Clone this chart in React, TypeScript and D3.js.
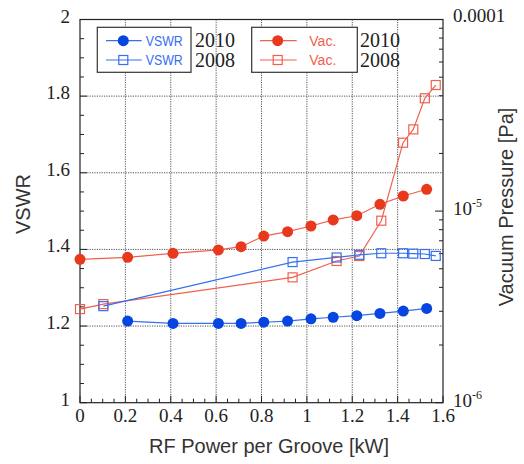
import React from "react";
import * as d3 from "d3";

const vswr2010X = [0.21, 0.41, 0.61, 0.71, 0.81, 0.915, 1.018, 1.116, 1.22, 1.322, 1.425, 1.528];
const vswr2010Y = [1.213, 1.207, 1.207, 1.207, 1.21, 1.213, 1.219, 1.223, 1.227, 1.233, 1.239, 1.246];
const vac2010X = [0, 0.21, 0.41, 0.61, 0.71, 0.81, 0.915, 1.018, 1.116, 1.22, 1.322, 1.425, 1.528];
const vac2010Y = [5.6e-6, 5.74e-6, 6.02e-6, 6.27e-6, 6.52e-6, 7.41e-6, 7.81e-6, 8.36e-6, 8.99e-6, 9.46e-6, 1.085e-5, 1.199e-5, 1.3e-5];
const vswr2008X = [0.103, 0.937, 1.131, 1.231, 1.328, 1.424, 1.469, 1.52, 1.568];
const vswr2008Y = [1.252, 1.367, 1.379, 1.386, 1.39, 1.39, 1.389, 1.388, 1.383];
const vac2008X = [0, 0.103, 0.937, 1.131, 1.231, 1.328, 1.424, 1.469, 1.52, 1.568];
const vac2008Y = [3.08e-6, 3.27e-6, 4.51e-6, 5.49e-6, 5.83e-6, 8.91e-6, 2.275e-5, 2.67e-5, 3.88e-5, 4.55e-5];

const xTicks = [0, 0.2, 0.4, 0.6, 0.8, 1, 1.2, 1.4, 1.6];
const xTickLabels = ["0", "0.2", "0.4", "0.6", "0.8", "1", "1.2", "1.4", "1.6"];
const yTicks = [1, 1.2, 1.4, 1.6, 1.8, 2];
const yTickLabels = ["1", "1.2", "1.4", "1.6", "1.8", "2"];

const L = 80, R = 443, T = 19.5, B = 402.7;
const blueFill = "#0645e0", blueLine = "#3470f0";
const redFill = "#e8391c", redLine = "#f0604e";
const serifStyle = { fontFamily: '"Liberation Serif", "Times New Roman", "DejaVu Serif", serif' };
const sansStyle = { fontFamily: '"Liberation Sans", Arial, Helvetica, sans-serif' };

export default function App() {
  const x = d3.scaleLinear().domain([0, 1.6]).range([L, R]);
  const y = d3.scaleLinear().domain([1, 2]).range([B, T]);
  const yp = d3.scaleLog().domain([1e-6, 1e-4]).range([B, T]);

  const lineV = (xs: number[], ys: number[]) =>
    d3.line<number>().x((_, i) => x(xs[i])).y((d) => y(d))(ys) || "";
  const lineP = (xs: number[], ys: number[]) =>
    d3.line<number>().x((_, i) => x(xs[i])).y((d) => yp(d))(ys) || "";

  const minorX = d3.range(0, 1.6001, 0.05);
  const minorY = d3.range(1, 2.0001, 0.05);
  const logMinor: number[] = [];
  [1e-6, 1e-5].forEach((b) => { for (let k = 2; k <= 9; k++) logMinor.push(b * k); });

  const sq = 9;
  const Square = ({ cx, cy, c }: { cx: number; cy: number; c: string }) => (
    <rect x={cx - sq / 2} y={cy - sq / 2} width={sq} height={sq} fill="none" stroke={c} strokeWidth={1.2} />
  );

  return (
    <svg width={524} height={464} style={{ position: "absolute", left: 0, top: 0 }}>
      <rect width={524} height={464} fill="#fff" />
      <g stroke="#555" strokeWidth={1} strokeDasharray="1.2,1.2">
        {xTicks.slice(1, -1).map((t) => (
          <line key={"gx" + t} x1={x(t)} x2={x(t)} y1={T} y2={B} />
        ))}
        {yTicks.slice(1, -1).map((t) => (
          <line key={"gy" + t} x1={L} x2={R} y1={y(t)} y2={y(t)} />
        ))}
      </g>
      <g stroke="#222" strokeWidth={1}>
        {minorX.map((t, i) => (
          <line key={"mx" + i} x1={x(t)} x2={x(t)} y1={B} y2={B - (i % 4 === 0 ? 7 : 4)} />
        ))}
        {minorY.map((t, i) => (
          <line key={"my" + i} x1={L} x2={L + (i % 4 === 0 ? 7 : 4)} y1={y(t)} y2={y(t)} />
        ))}
        {logMinor.map((t, i) => (
          <line key={"lm" + i} x1={R} x2={R - 4} y1={yp(t)} y2={yp(t)} />
        ))}
        {[1e-6, 1e-5, 1e-4].map((t) => (
          <line key={"lM" + t} x1={R} x2={R - 8} y1={yp(t)} y2={yp(t)} />
        ))}
      </g>
      <rect x={L} y={T} width={R - L} height={B - T} fill="none" stroke="#222" strokeWidth={1.2} />
      <path d={lineP(vac2008X, vac2008Y)} fill="none" stroke={redLine} strokeWidth={1.2} />
      <path d={lineV(vswr2008X, vswr2008Y)} fill="none" stroke={blueLine} strokeWidth={1.2} />
      <path d={lineP(vac2010X, vac2010Y)} fill="none" stroke={redLine} strokeWidth={1.2} />
      <path d={lineV(vswr2010X, vswr2010Y)} fill="none" stroke={blueLine} strokeWidth={1.2} />
      {vac2008X.map((v, i) => <Square key={"rs" + i} cx={x(v)} cy={yp(vac2008Y[i])} c={redLine} />)}
      {vswr2008X.map((v, i) => <Square key={"bs" + i} cx={x(v)} cy={y(vswr2008Y[i])} c={blueLine} />)}
      {vac2010X.map((v, i) => <circle key={"rc" + i} cx={x(v)} cy={yp(vac2010Y[i])} r={5.5} fill={redFill} />)}
      {vswr2010X.map((v, i) => <circle key={"bc" + i} cx={x(v)} cy={y(vswr2010Y[i])} r={5.5} fill={blueFill} />)}
      <g fontSize={19} fill="#222" style={serifStyle}>
        {xTicks.map((t, i) => (
          <text key={"xl" + t} x={x(t)} y={422} textAnchor="middle" style={serifStyle}>{xTickLabels[i]}</text>
        ))}
        {yTicks.map((t, i) => (
          <text key={"yl" + t} x={70} y={y(t) + 3} textAnchor="end" style={serifStyle}>{yTickLabels[i]}</text>
        ))}
        <text x={453} y={22} style={serifStyle}>0.0001</text>
        <text x={453} y={yp(1e-5) + 4} style={serifStyle}>10<tspan fontSize={12} dy={-8}>-5</tspan></text>
        <text x={453} y={yp(1e-6) + 4} style={serifStyle}>10<tspan fontSize={12} dy={-8}>-6</tspan></text>
      </g>
      <g fontSize={20} fill="#333" style={sansStyle}>
        <text x={269} y={453} textAnchor="middle" style={sansStyle}>RF Power per Groove [kW]</text>
        <text transform="translate(30,204) rotate(-90)" textAnchor="middle" style={sansStyle}>VSWR</text>
        <text transform="translate(513,207) rotate(-90)" textAnchor="middle" style={sansStyle}>Vacuum Pressure [Pa]</text>
      </g>
      <rect x={97.3} y={27.3} width={93.7} height={45} fill="#fff" stroke="#333" strokeWidth={1.2} />
      <rect x={251.7} y={27.3} width={105.6} height={45} fill="#fff" stroke="#333" strokeWidth={1.2} />
      <line x1={106} x2={141.7} y1={40.7} y2={40.7} stroke={blueLine} strokeWidth={1.2} />
      <circle cx={123.3} cy={40.7} r={5.5} fill={blueFill} />
      <line x1={106} x2={141.7} y1={60} y2={60} stroke={blueLine} strokeWidth={1.2} />
      <Square cx={123.3} cy={60} c={blueLine} />
      <line x1={260} x2={296.7} y1={40.7} y2={40.7} stroke={redLine} strokeWidth={1.2} />
      <circle cx={277.7} cy={40.7} r={5.5} fill={redFill} />
      <line x1={260} x2={296.7} y1={60} y2={60} stroke={redLine} strokeWidth={1.2} />
      <Square cx={277.7} cy={60} c={redLine} />
      <g fontSize={14} style={sansStyle}>
        <text x={145.7} y={45.5} fill={blueLine} style={sansStyle} textLength={37} lengthAdjust="spacingAndGlyphs">VSWR</text>
        <text x={145.7} y={65} fill={blueLine} style={sansStyle} textLength={37} lengthAdjust="spacingAndGlyphs">VSWR</text>
        <text x={309.3} y={45.5} fill={redLine} style={sansStyle}>Vac.</text>
        <text x={309.3} y={65} fill={redLine} style={sansStyle}>Vac.</text>
      </g>
      <g fontSize={20} fill="#222" style={serifStyle}>
        <text x={195} y={46.5} style={serifStyle}>2010</text>
        <text x={195} y={66.5} style={serifStyle}>2008</text>
        <text x={360} y={46.5} style={serifStyle}>2010</text>
        <text x={360} y={66.5} style={serifStyle}>2008</text>
      </g>
    </svg>
  );
}
